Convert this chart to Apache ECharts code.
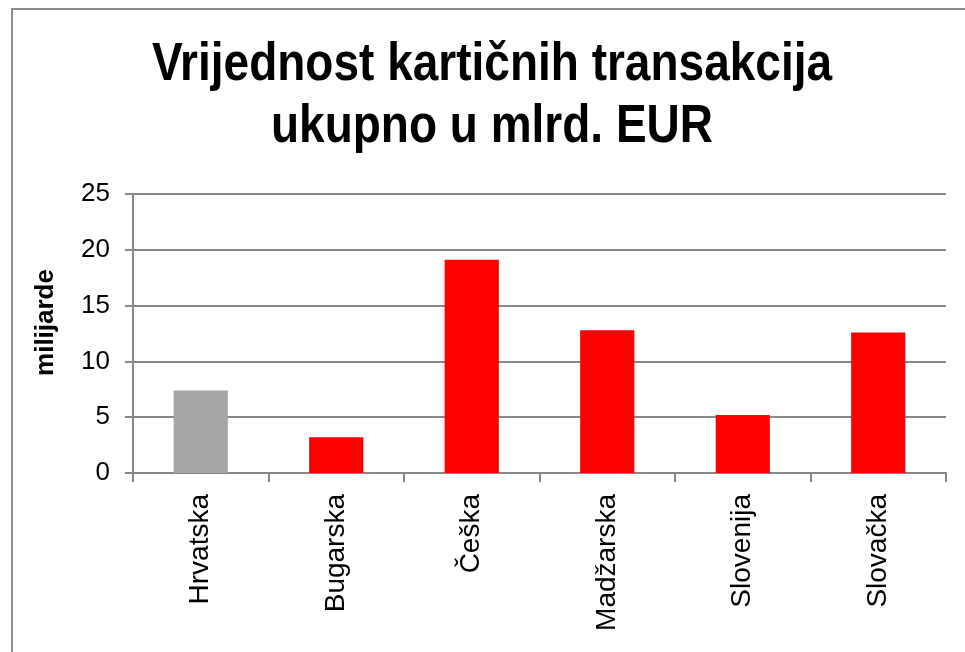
<!DOCTYPE html>
<html>
<head>
<meta charset="utf-8">
<script src="https://cdn.jsdelivr.net/npm/echarts@6/dist/echarts.min.js"></script>
<style>
  html, body { margin: 0; padding: 0; background: #fff; }
  #chart { width: 965px; height: 652px; }
</style>
</head>
<body>
<div id="chart"></div>
<script>
// data
const categories = ["Hrvatska", "Bugarska", "Češka", "Madžarska", "Slovenija", "Slovačka"];
const values = [7.4, 3.2, 19.1, 12.8, 5.2, 12.6];
const barColors = ["#A6A6A6", "#FF0000", "#FF0000", "#FF0000", "#FF0000", "#FF0000"];
const yTicks = [0, 5, 10, 15, 20, 25];
const titleLines = ["Vrijednost kartičnih transakcija", "ukupno u mlrd. EUR"];

const chart = echarts.init(document.getElementById("chart"));
const font = "Liberation Sans, Arial, sans-serif";

// title drawn as graphic text so it can be stretched a bit vertically like the original
const titleGraphics = titleLines.map((line, i) => ({
  type: "text",
  x: 492,
  y: 65 + i * 62,
  scaleY: 1.15,
  silent: true,
  style: {
    text: line,
    fontFamily: font,
    fontSize: 46,
    fontWeight: "bold",
    fill: "#000",
    align: "center",
    verticalAlign: "middle",
  },
}));

const option = {
  backgroundColor: "#fff",
  animation: false,
  graphic: [
    {
      type: "rect",
      shape: { x: 12, y: 9, width: 1000, height: 700 },
      style: { fill: "none", stroke: "#8C8C8C", lineWidth: 2 },
      silent: true,
    },
  ].concat(titleGraphics),
  grid: {
    left: 133,
    right: 19,
    top: 194,
    bottom: 179,
  },
  xAxis: {
    type: "category",
    data: categories,
    axisLine: { lineStyle: { color: "#888", width: 2 } },
    axisTick: { show: true, length: 9, lineStyle: { color: "#888", width: 2 } },
    axisLabel: {
      rotate: 90,
      margin: 21,
      fontFamily: font,
      fontSize: 28,
      color: "#000",
    },
  },
  yAxis: {
    type: "value",
    min: yTicks[0],
    max: yTicks[yTicks.length - 1],
    interval: 5,
    name: "milijarde",
    nameLocation: "middle",
    nameRotate: 90,
    nameGap: 74,
    nameTextStyle: {
      fontFamily: font,
      fontSize: 26,
      fontWeight: "bold",
      color: "#000",
      padding: [0, 0, 0, 22],
    },
    axisLine: { show: true, lineStyle: { color: "#888", width: 2 } },
    axisTick: { show: true, length: 8, lineStyle: { color: "#888", width: 2 } },
    splitLine: { show: true, lineStyle: { color: "#888", width: 2 } },
    axisLabel: {
      margin: 23,
      fontFamily: font,
      fontSize: 26,
      color: "#000",
    },
  },
  series: [
    {
      type: "bar",
      data: values.map((v, i) => ({ value: v, itemStyle: { color: barColors[i] } })),
      barWidth: "40%",
    },
  ],
};

chart.setOption(option);
</script>
</body>
</html>
